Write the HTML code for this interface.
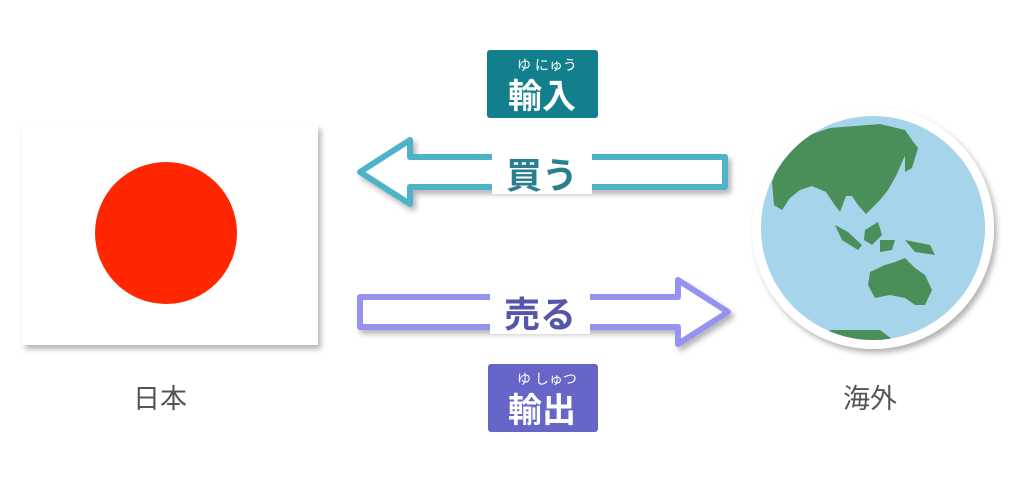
<!DOCTYPE html>
<html><head><meta charset="utf-8"><style>
html,body{margin:0;padding:0;background:#fff;width:1024px;height:492px;overflow:hidden;font-family:"Liberation Sans","Noto Sans CJK JP",sans-serif}
</style></head><body>
<svg width="1024" height="492" viewBox="0 0 1024 492" xmlns="http://www.w3.org/2000/svg">
<defs>
<filter id="sh" x="-20%" y="-20%" width="140%" height="140%"><feGaussianBlur in="SourceAlpha" stdDeviation="3"/><feOffset dx="3" dy="4"/><feComponentTransfer><feFuncA type="linear" slope="0.3"/></feComponentTransfer><feMerge><feMergeNode/><feMergeNode in="SourceGraphic"/></feMerge></filter>
<clipPath id="gc"><circle cx="873" cy="228" r="112"/></clipPath>
</defs>
<!-- flag -->
<rect x="22" y="125" width="296" height="220" fill="#fff" filter="url(#sh)"/>
<circle cx="166" cy="233" r="71" fill="#ff2600"/>
<text x="160" y="408" font-size="27" fill="#555" text-anchor="middle" font-family="Liberation Sans,Noto Sans CJK JP,sans-serif">日本</text>
<!-- globe -->
<circle cx="873" cy="228" r="121" fill="#fff" filter="url(#sh)"/>
<circle cx="873" cy="228" r="112" fill="#a6d4ea"/>
<g clip-path="url(#gc)" fill="#4a8f5a">
<path d="M795 140 L830 128 L880 124 L905 130 L912 140 L903 160 L896 176 L888 190 L880 200 L872 208 L866 214 L858 205 L852 196 L846 196 L840 212 L834 204 L826 192 L812 186 L800 190 L790 198 L782 210 L774 205 L772 182 L780 160 Z"/>
<path d="M905 150 L912 140 L918 148 L912 168 L905 172 Z"/>
<path d="M835 225 L848 232 L862 245 L858 250 L842 240 Z"/>
<path d="M865 230 L878 222 L882 235 L872 245 L864 240 Z"/>
<path d="M880 240 L895 240 L892 250 L880 252 Z"/>
<path d="M905 240 L930 245 L935 255 L915 252 Z"/>
<path d="M870 272 L885 265 L895 262 L905 258 L915 268 L925 275 L932 290 L925 305 L915 305 L905 298 L890 295 L875 298 L868 285 Z"/>
<path d="M770 280 L775 300 L772 320 L766 310 Z"/>
<path d="M830 330 L880 330 L900 345 L820 345 Z"/>
</g>
<text x="870" y="408" font-size="27" fill="#555" text-anchor="middle" font-family="Liberation Sans,Noto Sans CJK JP,sans-serif">海外</text>
<!-- top arrow -->
<path d="M360 172 L410 140 L410 157 L725 157 L725 187 L410 187 L410 204 Z" fill="#fff" stroke="#4fb3c8" stroke-width="6" stroke-linejoin="round" filter="url(#sh)"/>
<rect x="492" y="150" width="100" height="44" fill="#fff"/>
<text x="542" y="188" font-size="36" font-weight="bold" fill="#2a7f8f" text-anchor="middle" font-family="Liberation Sans,Noto Sans CJK JP,sans-serif">買う</text>
<!-- bottom arrow -->
<path d="M728 312 L678 280 L678 297 L360 297 L360 327 L678 327 L678 344 Z" fill="#fff" stroke="#9494f0" stroke-width="6" stroke-linejoin="round" filter="url(#sh)"/>
<rect x="490" y="290" width="100" height="44" fill="#fff"/>
<text x="540" y="327" font-size="36" font-weight="bold" fill="#5555aa" text-anchor="middle" font-family="Liberation Sans,Noto Sans CJK JP,sans-serif">売る</text>
<!-- badges -->
<rect x="487" y="50" width="111" height="68" rx="3" fill="#127f8c"/>
<text x="547" y="70" font-size="14" fill="#fff" text-anchor="middle" font-family="Liberation Sans,Noto Sans CJK JP,sans-serif">ゆ にゅう</text>
<text x="542" y="108" font-size="34" font-weight="bold" fill="#fff" text-anchor="middle" font-family="Liberation Sans,Noto Sans CJK JP,sans-serif">輸入</text>
<rect x="488" y="364" width="110" height="68" rx="3" fill="#6666c8"/>
<text x="547" y="384" font-size="14" fill="#fff" text-anchor="middle" font-family="Liberation Sans,Noto Sans CJK JP,sans-serif">ゆ しゅつ</text>
<text x="542" y="422" font-size="34" font-weight="bold" fill="#fff" text-anchor="middle" font-family="Liberation Sans,Noto Sans CJK JP,sans-serif">輸出</text>
</svg>
</body></html>
